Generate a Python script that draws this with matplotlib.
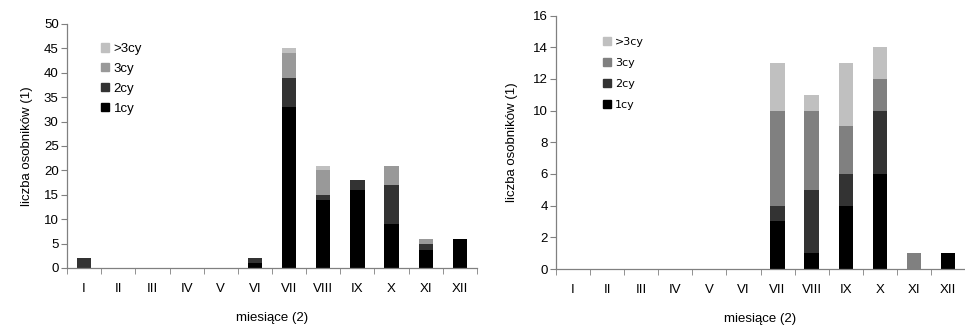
import numpy as np
import matplotlib
matplotlib.use("Agg")
import matplotlib.pyplot as plt
from matplotlib.patches import Patch

plt.rcParams['font.family'] = ['Liberation Sans', 'DejaVu Sans']

months = ['I', 'II', 'III', 'IV', 'V', 'VI', 'VII', 'VIII', 'IX', 'X', 'XI', 'XII']
labels = ['1cy', '2cy', '3cy', '>3cy']

# left panel
left_1cy = [0, 0, 0, 0, 0, 1, 33, 14, 16, 9, 3.7, 6]
left_2cy = [2, 0, 0, 0, 0, 1, 6, 1, 2, 8, 1.3, 0]
left_3cy = [0, 0, 0, 0, 0, 0, 5, 5, 0, 4, 1, 0]
left_gt3 = [0, 0, 0, 0, 0, 0, 1, 1, 0, 0, 0, 0]

# right panel
right_1cy = [0, 0, 0, 0, 0, 0, 3, 1, 4, 6, 0, 1]
right_2cy = [0, 0, 0, 0, 0, 0, 1, 4, 2, 4, 0, 0]
right_3cy = [0, 0, 0, 0, 0, 0, 6, 5, 3, 2, 1, 0]
right_gt3 = [0, 0, 0, 0, 0, 0, 3, 1, 4, 2, 0, 0]

left_colors = ['#000000', '#333333', '#999999', '#c0c0c0']
right_colors = ['#000000', '#333333', '#808080', '#c0c0c0']

fig = plt.figure(figsize=(9.65, 3.25), dpi=100)
W, H = 965, 325
FS = 9.5


def draw_panel(rect, series, colors, ymax, ystep, legend_xy, legend_prop, lspace, hlen, ylpad):
    ax = fig.add_axes(rect)
    x = np.arange(len(months))
    bottom = np.zeros(len(months))
    for vals, c in zip(series, colors):
        vals = np.array(vals, dtype=float)
        ax.bar(x, vals, 0.42, bottom=bottom, color=c, linewidth=0)
        bottom += vals
    ax.set_xlim(-0.5, len(months) - 0.5)
    ax.set_ylim(0, ymax)
    ax.set_yticks(np.arange(0, ymax + 0.1, ystep))
    ax.set_xticks(x)
    ax.set_xticklabels(months)
    ax.set_xticks(np.arange(-0.5, len(months), 1), minor=True)
    ax.tick_params(axis='x', which='major', length=0, pad=11, labelsize=FS)
    ax.tick_params(axis='x', which='minor', length=4, direction='out', color='#808080')
    ax.tick_params(axis='y', length=4, direction='out', color='#808080', labelsize=FS, pad=2)
    for s in ['top', 'right']:
        ax.spines[s].set_visible(False)
    for s in ['left', 'bottom']:
        ax.spines[s].set_color('#808080')
        ax.spines[s].set_linewidth(0.9)
    ax.set_ylabel('liczba osobników (1)', fontsize=FS, labelpad=ylpad)
    ax.set_xlabel('miesiące (2)', fontsize=FS, labelpad=12)
    handles = [Patch(color=c, label=l) for c, l in zip(colors, labels)][::-1]
    ax.legend(handles=handles, loc='upper left',
              bbox_to_anchor=(legend_xy[0] / W, 1 - legend_xy[1] / H),
              bbox_transform=fig.transFigure, frameon=False,
              prop=legend_prop,
              handlelength=hlen, handleheight=hlen, handletextpad=0.37,
              labelspacing=lspace, borderpad=0, borderaxespad=0)
    return ax


draw_panel([67 / W, 1 - 268 / H, 410 / W, 244 / H],
           [left_1cy, left_2cy, left_3cy, left_gt3], left_colors, 50, 5,
           (101, 43), {'family': 'Liberation Sans', 'size': 9.5}, 0.6, 0.6, 8)
draw_panel([556 / W, 1 - 269 / H, 409 / W, 253.5 / H],
           [right_1cy, right_2cy, right_3cy, right_gt3], right_colors, 16, 2,
           (603, 37), {'family': 'DejaVu Sans', 'size': 8}, 0.99, 0.72, 11)

fig.savefig('out.png', dpi=100)
